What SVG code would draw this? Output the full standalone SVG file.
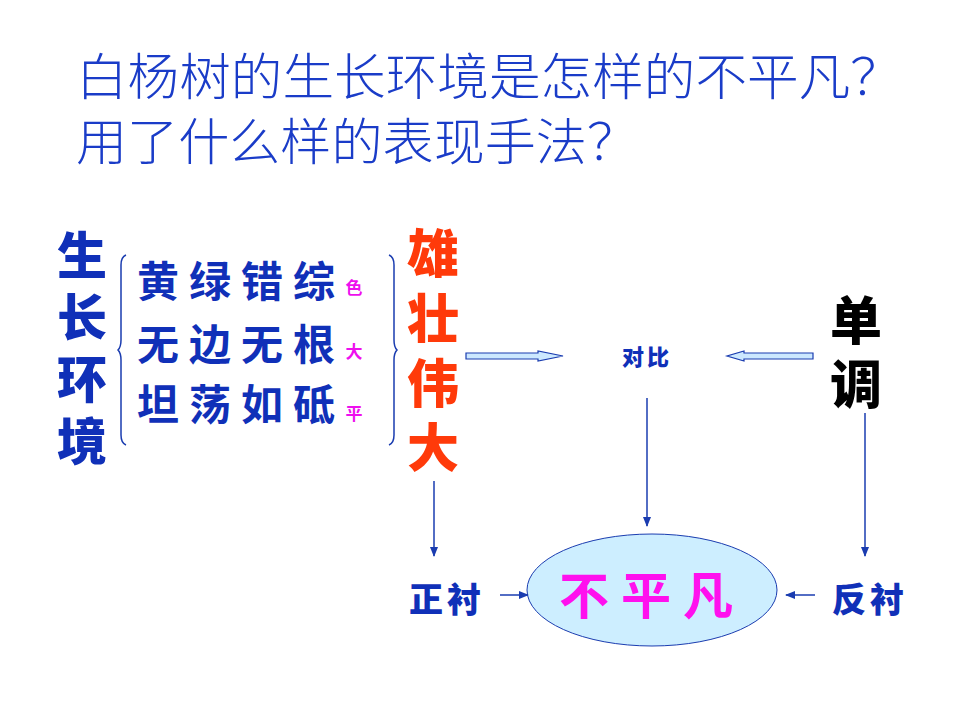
<svg xmlns="http://www.w3.org/2000/svg" width="960" height="720" viewBox="0 0 960 720">
<defs>
<style>
.t{font-family:"Noto Sans CJK SC","Noto Sans CJK JP",sans-serif;}
.title{font-size:50px;fill:#1a3cc8;font-weight:300;}
.env{font-size:50px;fill:#1030b8;font-weight:900;text-anchor:middle;}
.row{font-size:42px;fill:#1030b8;font-weight:700;text-anchor:middle;}
.sm{font-size:17px;fill:#ee10ee;font-weight:700;text-anchor:middle;}
.red{font-size:52px;fill:#ff3a0a;font-weight:900;text-anchor:middle;}
.blk{font-size:52px;fill:#000;font-weight:900;text-anchor:middle;}
.blue2{font-size:34px;fill:#1030b8;font-weight:900;text-anchor:middle;}
.ln{stroke:#1a3cb0;stroke-width:1.5;fill:none;}
.hollow{fill:#cce8ff;stroke:#1a3cb0;stroke-width:1.2;}
</style>
<marker id="ah" markerWidth="10" markerHeight="10" refX="9" refY="5" orient="auto" markerUnits="userSpaceOnUse">
<path d="M0,1 L10,5 L0,9 Z" fill="#1a3cb0"/>
</marker>
</defs>
<rect width="960" height="720" fill="#fff"/>
<g id="title" class="t">
<text class="title" x="76" y="95" textLength="826" lengthAdjust="spacingAndGlyphs">白杨树的生长环境是怎样的不平凡？</text>
<text class="title" x="76" y="160" textLength="562" lengthAdjust="spacingAndGlyphs">用了什么样的表现手法？</text>
</g>
<g id="env" class="t">
<text class="env"><tspan x="82" y="274">生</tspan><tspan x="82" y="336">长</tspan><tspan x="82" y="398">环</tspan><tspan x="82" y="460">境</tspan></text>
</g>
<g id="brackets">
<path class="ln" d="M126,255 Q121,257 121,265 L121,340 Q121,347 118,350 Q121,353 121,360 L121,435 Q121,443 126,445" stroke-width="1"/>
<path class="ln" d="M389,255 Q394,257 394,265 L394,340 Q394,347 397,350 Q394,353 394,360 L394,435 Q394,443 389,445" stroke-width="1"/>
</g>
<g id="rows" class="t">
<text class="row" x="158" y="297">黄</text>
<text class="row" x="210" y="297">绿</text>
<text class="row" x="262" y="297">错</text>
<text class="row" x="314" y="297">综</text>
<text class="sm" x="354" y="294">色</text>
<text class="row" x="158" y="360">无</text>
<text class="row" x="210" y="360">边</text>
<text class="row" x="262" y="360">无</text>
<text class="row" x="314" y="360">根</text>
<text class="sm" x="354" y="358">大</text>
<text class="row" x="158" y="420">坦</text>
<text class="row" x="210" y="420">荡</text>
<text class="row" x="262" y="420">如</text>
<text class="row" x="314" y="420">砥</text>
<text class="sm" x="354" y="420">平</text>
</g>
<g id="xiongzhuang" class="t">
<text class="red"><tspan x="433" y="273">雄</tspan><tspan x="433" y="338">壮</tspan><tspan x="433" y="403">伟</tspan><tspan x="433" y="467">大</tspan></text>
</g>
<g id="duibi" class="t">
<text x="647" y="365" font-size="22" font-weight="900" fill="#1030b8" text-anchor="middle" letter-spacing="3">对比</text>
</g>
<g id="dandiao" class="t">
<text class="blk"><tspan x="856" y="340">单</tspan><tspan x="856" y="404">调</tspan></text>
</g>
<g id="center">
<ellipse cx="652" cy="590" rx="125" ry="56" fill="#cdeeff" stroke="#1a3cb0" stroke-width="1"/>
<text class="t" x="652" y="614" font-size="50" font-weight="700" fill="#ff10ee" text-anchor="middle" letter-spacing="12">不平凡</text>
</g>
<g id="zhengchen" class="t">
<text class="blue2" x="447" y="612" letter-spacing="4">正衬</text>
</g>
<g id="fanchen" class="t">
<text class="blue2" x="870" y="612" letter-spacing="4">反衬</text>
</g>
<g id="connectors">
<path class="hollow" d="M466,353 L538,353 L538,351 L563,356 L538,361 L538,359 L466,359 Z"/>
<path class="hollow" d="M813,353 L744,353 L744,351 L727,356 L744,361 L744,359 L813,359 Z"/>
<line class="ln" x1="647" y1="398" x2="647" y2="526" marker-end="url(#ah)"/>
<line class="ln" x1="434" y1="481" x2="434" y2="556" marker-end="url(#ah)"/>
<line class="ln" x1="865" y1="413" x2="865" y2="556" marker-end="url(#ah)"/>
<line class="ln" x1="500" y1="595" x2="528" y2="595" marker-end="url(#ah)"/>
<line class="ln" x1="815" y1="595" x2="786" y2="595" marker-end="url(#ah)"/>
</g>
</svg>
